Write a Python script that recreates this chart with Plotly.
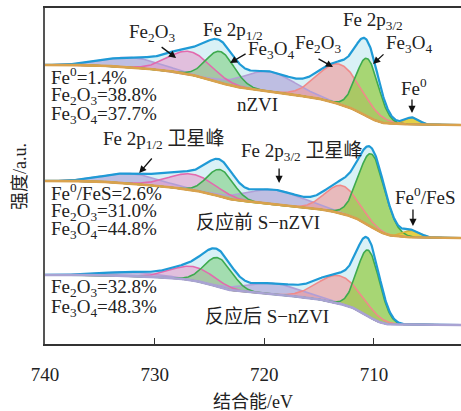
import numpy as np
import plotly.graph_objects as go

# ---------------- data ----------------
# binding-energy axis
x_ticks = [740, 730, 720, 710]
x_range = [740.0, 702.06]

# component kinds shared by the three fits
kinds = ["fe0", "fe3o4_32", "fe2o3_32", "sat_32", "fe3o4_12", "fe2o3_12", "sat_12"]

# nZVI fit: centre (eV), height (a.u. above background), FWHM (eV)
nzvi_center = [706.5, 710.6, 713.1, 719.5, 724.0, 726.8, 732.0]
nzvi_height = [7, 58, 40, 20, 31, 23, 10]
nzvi_fwhm = [1.5, 2.4, 4.6, 5.5, 3.0, 4.5, 6.0]
nzvi_bg = [279, 219]          # background at 740 eV and 702 eV

# S-nZVI before reaction
pre_center = [706.5, 710.2, 712.9, 719.0, 724.0, 726.6, 732.0]
pre_height = [7, 73, 28, 15, 27, 16, 10]
pre_fwhm = [1.8, 2.8, 3.6, 6.0, 2.8, 5.0, 6.0]
pre_bg = [163, 106]

# S-nZVI after reaction (no Fe0)
post_center = [None, 710.5, 713.1, 719.0, 724.2, 726.5, 732.0]
post_height = [0, 66, 28, 11, 29, 14, 4]
post_fwhm = [1.5, 2.4, 4.6, 6.0, 3.0, 4.5, 6.0]
post_bg = [69, 19]

# ---------------- styles ----------------
FONT = "'Liberation Serif', 'Times New Roman', 'Noto Sans CJK SC', serif"
TXT = "#222222"
fill_col = {
    "sat_32": "rgba(172,156,214,0.60)", "sat_12": "rgba(172,156,214,0.60)",
    "fe2o3_12": "rgba(232,150,200,0.55)", "fe2o3_32": "rgba(242,150,150,0.60)",
    "fe3o4_12": "rgba(118,204,118,0.55)", "fe3o4_32": "rgba(150,204,72,0.75)",
    "fe0": "rgba(228,204,52,0.90)",
}
line_col = {
    "sat_32": "#B29ED6", "sat_12": "#B29ED6",
    "fe2o3_12": "#E26AAE", "fe2o3_32": "#F08A8A",
    "fe3o4_12": "#3DAA4E", "fe3o4_32": "#3DAA4E",
    "fe0": "#D6B23A",
}
draw_order = ["sat_12", "sat_32", "fe2o3_12", "fe2o3_32", "fe3o4_12", "fe3o4_32", "fe0"]

E = np.linspace(702.0, 740.0, 761)


def peak(c, h, w):
    if c is None or h == 0:
        return np.zeros_like(E)
    return h * np.exp(-4 * np.log(2) * ((E - c) / w) ** 2)


def shirley(S, left, right):
    cum = np.concatenate([[0.0], np.cumsum((S[1:] + S[:-1]) / 2 * np.diff(E))])
    return right + (left - right) * cum / cum[-1]


fig = go.Figure()


def add_spectrum(centers, heights, fwhms, bgends, bgcolor):
    comps = {k: peak(c, h, w) for k, c, h, w in zip(kinds, centers, heights, fwhms)}
    S = sum(comps.values())
    bg = shirley(S, bgends[0], bgends[1])
    env = bg + S
    xs = np.concatenate([E, E[::-1]])
    fig.add_trace(go.Scatter(x=xs, y=np.concatenate([env, bg[::-1]]), fill="toself",
                             fillcolor="#D9F1F6", line=dict(width=0), mode="lines",
                             hoverinfo="skip", showlegend=False))
    for k in draw_order:
        p = comps[k]
        if p.max() <= 0:
            continue
        fig.add_trace(go.Scatter(x=xs, y=np.concatenate([bg + p, bg[::-1]]), fill="toself",
                                 fillcolor=fill_col[k], line=dict(width=0), mode="lines",
                                 hoverinfo="skip", showlegend=False))
    for k in draw_order:
        p = comps[k]
        if p.max() <= 0:
            continue
        fig.add_trace(go.Scatter(x=E, y=bg + p, mode="lines",
                                 line=dict(color=line_col[k], width=1.6),
                                 hoverinfo="skip", showlegend=False))
    fig.add_trace(go.Scatter(x=E, y=env, mode="lines", line=dict(color="#1F9AD6", width=2.2),
                             hoverinfo="skip", showlegend=False))
    fig.add_trace(go.Scatter(x=E, y=bg, mode="lines", line=dict(color=bgcolor, width=2.6),
                             hoverinfo="skip", showlegend=False))


add_spectrum(nzvi_center, nzvi_height, nzvi_fwhm, nzvi_bg, "#D9A24E")
add_spectrum(pre_center, pre_height, pre_fwhm, pre_bg, "#D9A24E")
add_spectrum(post_center, post_height, post_fwhm, post_bg, "#A9A3D3")

annos = []


def label(x, y, text, xanchor="center", size=19):
    annos.append(dict(x=x, y=y, xref="x", yref="y", text=text, showarrow=False,
                      xanchor=xanchor, yanchor="middle", font=dict(family=FONT, size=size, color=TXT)))


def arrow(x0, y0, x1, y1):
    annos.append(dict(x=x1, y=y1, ax=x0, ay=y0, xref="x", yref="y", axref="x", ayref="y",
                      text="", showarrow=True, arrowhead=2, arrowsize=1.1, arrowwidth=1.3,
                      arrowcolor="#111111"))


# nZVI
label(730.23, 311, "Fe<sub>2</sub>O<sub>3</sub>")
arrow(729.5, 298, 728.04, 286)
label(722.84, 313, "Fe 2p<sub>1/2</sub>")
label(719.37, 294, "Fe<sub>3</sub>O<sub>4</sub>")
arrow(721.57, 291, 723.12, 281)
label(715.09, 300, "Fe<sub>2</sub>O<sub>3</sub>")
arrow(715.19, 286, 713.73, 277)
label(710.08, 323, "Fe 2p<sub>3/2</sub>")
label(706.81, 300, "Fe<sub>3</sub>O<sub>4</sub>")
arrow(708.99, 291, 710.08, 280)
label(706.35, 257, "Fe<sup>0</sup>")
arrow(706.53, 246, 706.53, 231)
label(720.61, 239.5, "nZVI")
label(739.62, 268, "Fe<sup>0</sup>=1.4%", "left")
label(739.62, 248, "Fe<sub>2</sub>O<sub>3</sub>=38.8%", "left")
label(739.62, 229, "Fe<sub>3</sub>O<sub>4</sub>=37.7%", "left")

# before reaction
label(729.18, 204, "Fe 2p<sub>1/2</sub> 卫星峰")
arrow(730.14, 187, 731.41, 171)
label(716.60, 192, "Fe 2p<sub>3/2</sub> 卫星峰")
arrow(718.65, 177, 718.65, 161)
label(705.34, 148, "Fe<sup>0</sup>/FeS")
arrow(706.44, 136, 706.44, 118)
label(720.61, 122, "反应前 S−nZVI")
label(739.62, 152, "Fe<sup>0</sup>/FeS=2.6%", "left")
label(739.62, 132, "Fe<sub>2</sub>O<sub>3</sub>=31.0%", "left")
label(739.62, 114, "Fe<sub>3</sub>O<sub>4</sub>=44.8%", "left")

# after reaction
label(739.62, 56, "Fe<sub>2</sub>O<sub>3</sub>=32.8%", "left")
label(739.62, 36, "Fe<sub>3</sub>O<sub>4</sub>=48.3%", "left")
label(719.79, 28, "反应后 S−nZVI")

# axis titles
annos.append(dict(x=(253 - 45) / 416, y=(344 - 402) / 336, xref="paper", yref="paper",
                  text="结合能/eV", showarrow=False, xanchor="center", yanchor="middle",
                  font=dict(family=FONT, size=18, color=TXT)))
annos.append(dict(x=(20 - 45) / 416, y=(344 - 177) / 336, xref="paper", yref="paper",
                  text="强度/a.u.", showarrow=False, xanchor="center", yanchor="middle",
                  textangle=-90, font=dict(family=FONT, size=18, color=TXT)))

fig.update_layout(
    width=461, height=411,
    margin=dict(l=45, r=0, t=8, b=67),
    paper_bgcolor="white", plot_bgcolor="white",
    annotations=annos,
    showlegend=False,
    font=dict(family=FONT, size=19, color=TXT),
    xaxis=dict(range=x_range, tickvals=x_ticks, ticks="inside", ticklen=6, tickwidth=1.3,
               tickcolor="#333333", showline=True, linecolor="#333333", linewidth=1.5,
               mirror=True, showgrid=False, zeroline=False, ticklabelstandoff=12,
               tickfont=dict(family=FONT, size=19, color=TXT)),
    yaxis=dict(range=[0, 336], showticklabels=False, ticks="", showline=True,
               linecolor="#555555", linewidth=2, showgrid=False, zeroline=False),
)

fig.write_html("out.html")
